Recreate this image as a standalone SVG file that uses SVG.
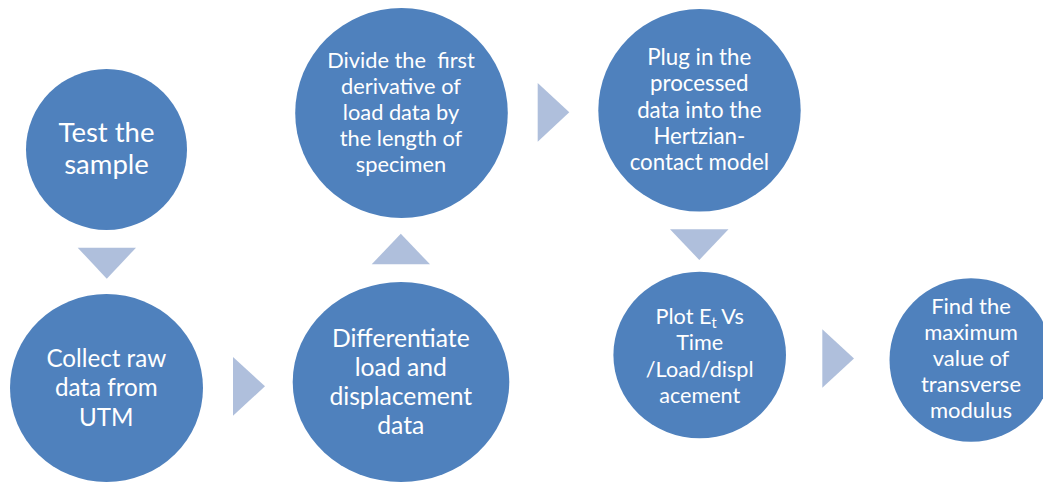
<svg xmlns="http://www.w3.org/2000/svg" width="1043" height="483" viewBox="0 0 1043 483">
<style>
.node{fill:#4F81BD}
.arr{fill:#AFBFDC}
text{font-family:Lato,"Open Sans","Liberation Sans",sans-serif;fill:#FFFFFF;text-anchor:middle}
</style>
<rect width="1043" height="483" fill="#FFFFFF"/>
<g id="connectors">
<polygon class="arr" points="77.7,247.7 136,247.7 106.8,278.7"/>
<polygon class="arr" points="233,357 265,386.3 233,415.7"/>
<polygon class="arr" points="371.7,264.3 430,264.3 400.8,233.8"/>
<polygon class="arr" points="537.7,83 569.3,112.3 537.7,141.7"/>
<polygon class="arr" points="670,229.2 728.5,229.2 699.3,260"/>
<polygon class="arr" points="822.3,329.3 854,358.5 822.3,387.7"/>
</g>
<g id="n1">
<ellipse class="node" cx="106.5" cy="149.5" rx="80.5" ry="80.5"/>
<text font-size="27.5"><tspan x="106.5" y="142">Test the</tspan><tspan x="106.5" y="174">sample</tspan></text>
</g>
<g id="n2">
<ellipse class="node" cx="106.5" cy="388" rx="96.5" ry="94"/>
<text font-size="24.2"><tspan x="106.3" y="367">Collect raw</tspan><tspan x="106.3" y="396">data from</tspan><tspan x="106.3" y="425.5">UTM</tspan></text>
</g>
<g id="n3">
<ellipse class="node" cx="401" cy="382" rx="108.3" ry="100"/>
<text font-size="24.7"><tspan x="400.8" y="346.7">Differentiate</tspan><tspan x="400.8" y="376">load and</tspan><tspan x="400.8" y="405">displacement</tspan><tspan x="400.8" y="433.7">data</tspan></text>
</g>
<g id="n4">
<ellipse class="node" cx="401.5" cy="113" rx="106.3" ry="105"/>
<text font-size="21.8" xml:space="preserve"><tspan x="401" y="68">Divide the  first</tspan><tspan x="401" y="94.1">derivative of</tspan><tspan x="401" y="120.2">load data by</tspan><tspan x="401" y="146.3">the length of</tspan><tspan x="401" y="172.4">specimen</tspan></text>
</g>
<g id="n5">
<ellipse class="node" cx="699.5" cy="110.3" rx="101.2" ry="101.3"/>
<text font-size="22.3"><tspan x="699.3" y="65.3">Plug in the</tspan><tspan x="699.3" y="91.4">processed</tspan><tspan x="699.3" y="117.5">data into the</tspan><tspan x="699.3" y="143.6">Hertzian-</tspan><tspan x="699.3" y="169.7">contact model</tspan></text>
</g>
<g id="n6">
<ellipse class="node" cx="699.7" cy="355" rx="86.3" ry="83.3"/>
<text font-size="21.6"><tspan x="699.7" y="323.5">Plot E<tspan font-size="14.5" dy="4">t</tspan><tspan dy="-4"> Vs</tspan></tspan><tspan x="699.7" y="350">Time</tspan><tspan x="699.7" y="376.5">/Load/displ</tspan><tspan x="699.7" y="403">acement</tspan></text>
</g>
<g id="n7">
<ellipse class="node" cx="971" cy="360" rx="81.5" ry="81.7"/>
<text font-size="22"><tspan x="971" y="314.3">Find the</tspan><tspan x="971" y="340.3">maximum</tspan><tspan x="971" y="366.3">value of</tspan><tspan x="971" y="392.3">transverse</tspan><tspan x="971" y="418.3">modulus</tspan></text>
</g>
</svg>
